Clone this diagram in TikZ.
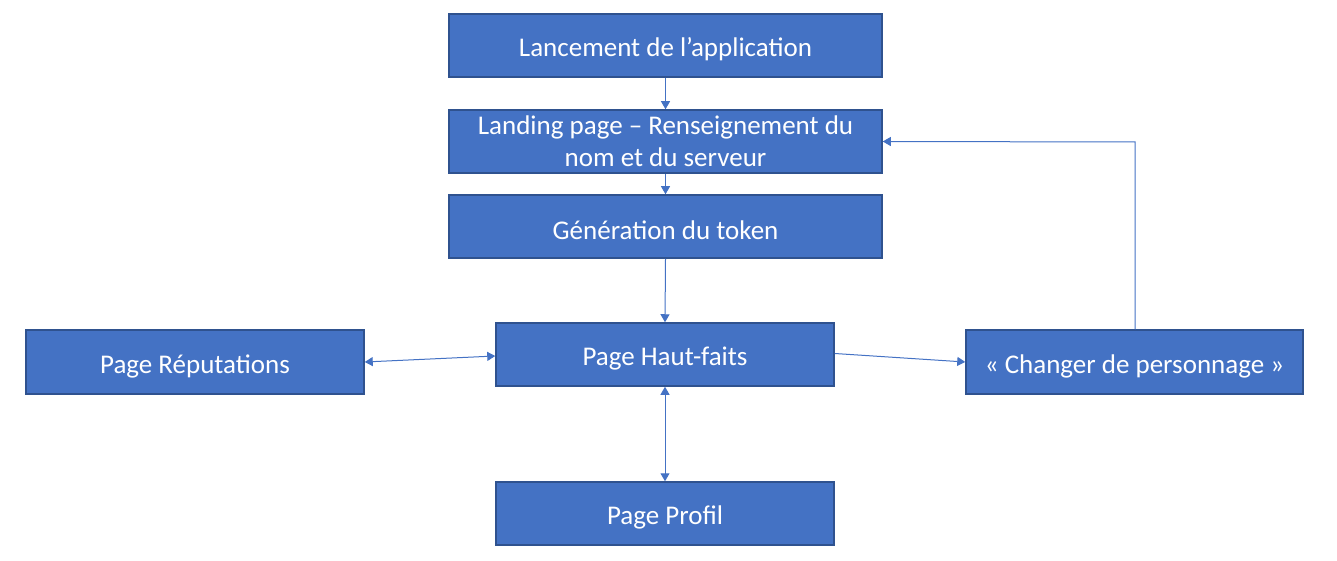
\documentclass[tikz,border=0pt]{standalone}
\usepackage{fontspec}
\setmainfont{Carlito}
\usetikzlibrary{arrows.meta}
\definecolor{boxfill}{HTML}{4472C4}
\definecolor{boxline}{HTML}{2F528F}
\newcommand\lowertxt[1]{\raisebox{-4pt}[\height][\depth]{#1}}
\begin{document}
\begin{tikzpicture}[x=1pt,y=-1pt,
  box/.style={draw=boxline,fill=boxfill,line width=1.5pt,text=white,font=\fontsize{27}{31}\selectfont,align=center,inner sep=0pt},
  conn/.style={draw=boxfill,line width=1pt,-{Triangle[width=9pt,length=8pt]}},
  bconn/.style={draw=boxfill,line width=1pt,{Triangle[width=9pt,length=8pt]}-{Triangle[width=9pt,length=8pt]}}]
\useasboundingbox (0,0) rectangle (1337,561);
\node[box,minimum width=433pt,minimum height=63pt] (launch) at (665.5,45.5) {\lowertxt{Lancement de l’application}};
\node[box,minimum width=433pt,minimum height=63pt] (landing) at (665.5,141.5) {\raisebox{0pt}{Landing page – Renseignement du}\\[1pt]\raisebox{0pt}{nom et du serveur}};
\node[box,minimum width=433pt,minimum height=63pt] (token) at (665.5,226.5) {\lowertxt{Génération du token}};
\node[box,minimum width=338pt,minimum height=63pt] (haut) at (665,354.5) {\lowertxt{Page Haut-faits}};
\node[box,minimum width=338pt,minimum height=64pt] (rep) at (195,362) {\lowertxt{Page Réputations}};
\node[box,minimum width=337pt,minimum height=64pt] (chg) at (1134.5,362) {\lowertxt{« Changer de personnage »}};
\node[box,minimum width=338pt,minimum height=63pt] (prof) at (665,513.5) {\lowertxt{Page Profil}};
\coordinate (corner) at (1135,142);
\draw[conn] (launch.south) -- (landing.north);
\draw[conn] (landing.south) -- (token.north);
\draw[conn] (token.south) -- (haut.north);
\draw[bconn] (rep.east) -- ([yshift=-1.5pt]haut.west);
\draw[conn] ([yshift=1pt]haut.east) -- (chg.west);
\draw[conn] (chg.north -| corner) -- (corner) -- (landing.east);
\draw[bconn] (haut.south) -- (prof.north);
\end{tikzpicture}
\end{document}
